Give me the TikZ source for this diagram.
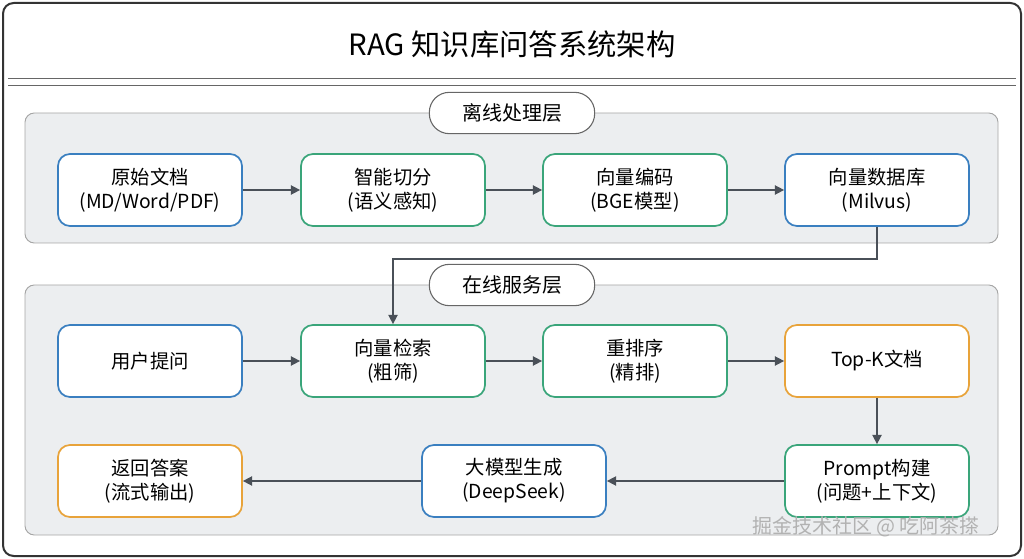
\documentclass[tikz,border=0pt]{standalone}
\usepackage{fontspec}
\setmainfont{Noto Sans CJK SC}
\usetikzlibrary{positioning,arrows.meta}
\definecolor{frameblue}{HTML}{3A7FC0}
\definecolor{framegreen}{HTML}{3AA57A}
\definecolor{frameorange}{HTML}{E8A33A}
\definecolor{panelgray}{HTML}{ECEEF0}
\definecolor{arrowgray}{HTML}{4A5058}
\tikzset{
  step/.style={draw=#1, line width=1.3pt, fill=white, rounded corners=9pt,
    minimum width=138pt, minimum height=54pt, align=center, font=\fontsize{14.5}{18}\selectfont},
  panel/.style={draw=gray!70, fill=panelgray, rounded corners=7pt, line width=0.7pt},
  pill/.style={draw=gray!80!black, fill=white, rounded corners=15pt, line width=0.8pt,
    minimum width=124pt, minimum height=31pt, font=\fontsize{15}{18}\selectfont},
  flow/.style={-{Triangle[length=7pt,width=7pt]}, draw=arrowgray, line width=1.1pt}
}
\begin{document}
\begin{tikzpicture}[x=0.75pt,y=-0.75pt]
  \useasboundingbox (0,0) rectangle (1024,559);
  % frame and title
  \draw[rounded corners=8pt, line width=1.5pt, draw=black!80] (3,3) rectangle (1021,556);
  \node (title) at (512,44) {\fontsize{22}{26}\selectfont RAG 知识库问答系统架构};
  \draw[gray!80!black, line width=0.7pt] (8,78) -- (1016,78) (8,85) -- (1016,85);
  % panels
  \draw[panel] (25,113) rectangle (998,243);
  \draw[panel] (25,285) rectangle (998,535);
  \node[pill] (offline) at (512,113) {离线处理层};
  \node[pill] (online) at (512,285) {在线服务层};
  % offline row
  \node[step=frameblue] (doc) at (150,190) {原始文档\\(MD/Word/PDF)};
  \node[step=framegreen] (chunk) at (393,190) {智能切分\\(语义感知)};
  \node[step=framegreen] (embed) at (635,190) {向量编码\\(BGE模型)};
  \node[step=frameblue] (vdb) at (877,190) {向量数据库\\(Milvus)};
  % online rows
  \node[step=frameblue] (query) at (150,361) {用户提问};
  \node[step=framegreen] (recall) at (393,361) {向量检索\\(粗筛)};
  \node[step=framegreen] (rerank) at (635,361) {重排序\\(精排)};
  \node[step=frameorange] (topk) at (877,361) {Top-K文档};
  \node[step=framegreen] (prompt) at (877,481) {Prompt构建\\(问题+上下文)};
  \node[step=frameblue] (llm) at (514,481) {大模型生成\\(DeepSeek)};
  \node[step=frameorange] (answer) at (150,481) {返回答案\\(流式输出)};
  % connectors
  \draw[flow] (doc) -- (chunk);
  \draw[flow] (chunk) -- (embed);
  \draw[flow] (embed) -- (vdb);
  \draw[flow] (vdb.south) -- ++(0,32) -| (recall.north);
  \draw[flow] (query) -- (recall);
  \draw[flow] (recall) -- (rerank);
  \draw[flow] (rerank) -- (topk);
  \draw[flow] (topk) -- (prompt);
  \draw[flow] (prompt) -- (llm);
  \draw[flow] (llm) -- (answer);
  % watermark
  \node[text=gray!60, font=\fontsize{15}{18}\selectfont] (mark) at (866,527) {掘金技术社区 @ 吃阿茶搽};
\end{tikzpicture}
\end{document}
